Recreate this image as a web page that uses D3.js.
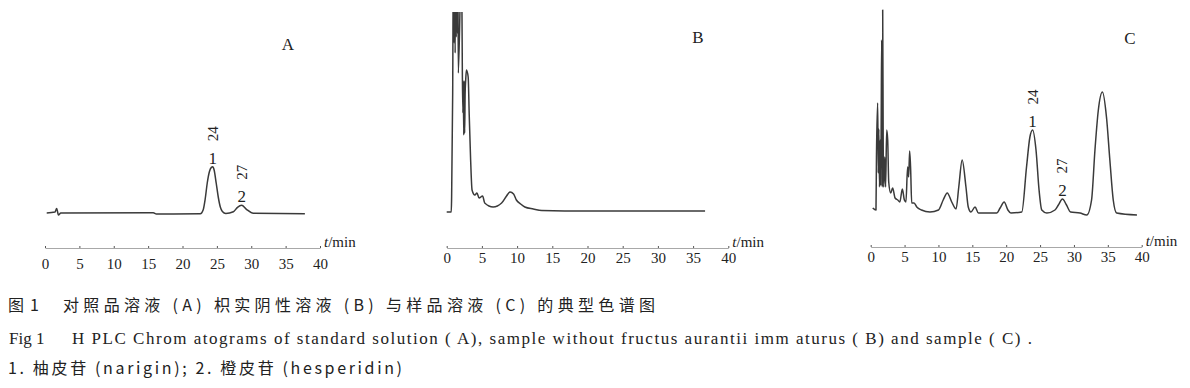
<!DOCTYPE html>
<html>
<head>
<meta charset="utf-8">
<script src="https://cdn.jsdelivr.net/npm/d3@7"></script>
<style>
  body { margin: 0; background: #fff; }
  svg { display: block; }
  .tick text { font-family: "Liberation Serif", serif; font-size: 15px; fill: #222; }
  .serif { font-family: "Liberation Serif", serif; fill: #222; }
  .cjk { font-family: "Noto Sans CJK SC", sans-serif; fill: #222; }
</style>
</head>
<body>
<div id="chart"></div>
<script>
// retention time (min) and detector signal
var timesA = [0.25, 1.45, 1.7, 1.95, 2.3, 15.75, 16.2, 22.6, 23.0, 23.3, 23.6, 23.9, 24.2, 24.4, 24.6, 24.9, 25.2, 25.5, 25.8, 26.3, 27.4, 28.0, 28.6, 29.3, 30.3, 37.8];
var signalA = [0, 0.5, 2.3, -1, 0, 0.15, -0.5, -0.4, 1.5, 7, 15, 20.5, 22.8, 23.1, 21.5, 15, 8, 3, 0.8, -0.2, 0.65, 2.85, 3.85, 1.85, -0.15, -0.35];

var timesB = [0.0, 0.65, 0.7, 0.85, 0.95, 1.05, 1.12, 1.2, 1.28, 1.35, 1.42, 1.5, 1.58, 1.65, 2.1, 2.22, 2.3, 2.36, 2.42, 2.48, 2.55, 2.62, 2.7, 2.8, 3.05, 3.2, 3.4, 3.6, 4.0, 4.3, 4.6, 5.1, 5.4, 6.6, 7.8, 8.5, 9.0, 9.5, 9.9, 10.5, 11.1, 12.3, 13.5, 20, 36.7];
var signalB = [0.5, 0.5, 8, 60, 130, 85, 130, 80, 130, 88, 130, 90, 130, 70, 130, 71.5, 50, 66, 39, 66, 40, 60, 66.5, 71.5, 68, 49, 26.5, 11.5, 9, 10, 7.5, 8.5, 5, 3, 5, 8.5, 10.5, 9.5, 6.5, 4.5, 3, 2, 1.25, 1, 1];

var timesC = [0.3, 0.78, 0.85, 1.03, 1.12, 1.2, 1.3, 1.4, 1.48, 1.55, 1.62, 1.72, 1.77, 1.85, 1.92, 2.07, 2.2, 2.36, 2.51, 2.66, 2.95, 3.24, 3.6, 4.0, 4.3, 4.67, 4.97, 5.2, 5.45, 5.6, 5.75, 5.9, 6.05, 6.4, 6.8, 7.5, 8.75, 10.0, 10.7, 11.3, 11.96, 12.6, 13.0, 13.5, 14.06, 14.4, 14.8, 15.4, 15.9, 18.6, 19.1, 19.7, 20.25, 20.7, 22.3, 23.0, 23.5, 23.9, 24.4, 24.85, 25.25, 26.0, 27.2, 27.7, 28.3, 28.9, 29.5, 30.9, 31.9, 32.6, 33.1, 33.6, 34.2, 34.8, 35.3, 35.8, 36.3, 39.3];
var signalC = [2.5, 1.5, 28, 55, 20, 42, 13, 36.5, 14, 46.5, 86.5, 13, 101.5, 30, 13, 28, 13, 41.5, 36.5, 15.5, 10, 12.5, 7.5, 6.5, 5.5, 12, 6.5, 5.5, 23, 18, 31, 21.5, 5, 5, 3, 1.5, 0.5, 1.5, 6.5, 10, 5.5, 2, 13, 26.5, 13, 3, 0.5, 3, 0, 0, 2.5, 5.5, 1.5, 0, 0.5, 23, 38, 41.5, 31.5, 11.5, 1.5, 0, 1.5, 4, 7, 4, 0.5, 0, -1, 6.5, 31.5, 51.5, 60.5, 48, 26.5, 6.5, 0, -1];

// labelled peaks: 1 = naringin, 2 = hesperidin
var peakNumbers = ["1", "2"];
var peakRtLabels = ["24", "27"];
var peakTimesA = [24.4, 28.6];
var peakTimesC = [23.9, 28.3];

var panelNames = ["A", "B", "C"];
var xTicks = [0, 5, 10, 15, 20, 25, 30, 35, 40];

var svgWidth = 1190;
var svgHeight = 388;

var svg = d3.select("#chart").append("svg")
  .attr("width", svgWidth)
  .attr("height", svgHeight);

// layout of each panel (pixels)
var panels = [
  { name: panelNames[0], t: timesA, s: signalA, x0: 45, x1: 320, axisY: 248, pad: 10, clipTop: 5,
    letter: [288, 44], peaks: peakTimesA },
  { name: panelNames[1], t: timesB, s: signalB, x0: 446.7, x1: 728.3, axisY: 248, pad: 4, clipTop: 12,
    letter: [698, 37], peaks: null },
  { name: panelNames[2], t: timesC, s: signalC, x0: 870.7, x1: 1141.7, axisY: 247, pad: 4, clipTop: 6,
    letter: [1130, 38], peaks: peakTimesC }
];

var yScale = d3.scaleLinear().domain([0, 100]).range([213, 13]);

panels.forEach(function(p, i) {
  var x = d3.scaleLinear().domain([0, 40]).range([p.x0, p.x1]);
  var g = svg.append("g");

  svg.append("clipPath").attr("id", "clip" + i)
    .append("rect")
    .attr("x", p.x0 - 5).attr("y", p.clipTop)
    .attr("width", p.x1 - p.x0 + 10).attr("height", 230 - p.clipTop);

  var pts = p.t.map(function(d, k) { return [d, p.s[k]]; });
  var line = d3.line()
    .x(function(d) { return x(d[0]); })
    .y(function(d) { return yScale(d[1]); })
    .curve(d3.curveMonotoneX);

  g.append("path")
    .datum(pts)
    .attr("clip-path", "url(#clip" + i + ")")
    .attr("fill", "none")
    .attr("stroke", "#3a3a3a")
    .attr("stroke-width", 1.5)
    .attr("stroke-linejoin", "round")
    .attr("d", line);

  // time axis
  var axis = d3.axisBottom(x)
    .tickValues(xTicks)
    .tickSizeInner(-2)
    .tickSizeOuter(0)
    .tickPadding(p.pad);

  var ax = g.append("g")
    .attr("transform", "translate(0," + p.axisY + ")")
    .call(axis);
  ax.select(".domain").attr("stroke", "#a8a8a8").attr("stroke-width", 1.2);
  ax.selectAll(".tick line").attr("stroke", "#555");

  var unit = g.append("text")
    .attr("class", "serif")
    .attr("x", x(40) + 4)
    .attr("y", p.axisY - 1)
    .attr("font-size", 15);
  unit.append("tspan").attr("font-style", "italic").text("t");
  unit.append("tspan").text("/min");

  g.append("text")
    .attr("class", "serif")
    .attr("x", p.letter[0]).attr("y", p.letter[1] + 6)
    .attr("text-anchor", "middle")
    .attr("font-size", 17)
    .text(p.name);

  if (p.peaks) {
    p.peaks.forEach(function(pt, k) {
      // height of the trace at the peak
      var top = d3.max(pts.filter(function(d) { return Math.abs(d[0] - pt) < 0.4; }), function(d) { return d[1]; });
      var px = x(pt);
      var py = yScale(top);
      g.append("text")
        .attr("class", "serif")
        .attr("x", px).attr("y", py - 3)
        .attr("text-anchor", "middle")
        .attr("font-size", 17)
        .text(peakNumbers[k]);
      g.append("text")
        .attr("class", "serif")
        .attr("transform", "translate(" + (px + 5) + "," + (py - 33) + ") rotate(-90)")
        .attr("text-anchor", "middle")
        .attr("font-size", 15)
        .text(peakRtLabels[k]);
    });
  }
});

// figure caption
svg.append("text").attr("class", "cjk").attr("x", 8).attr("y", 311).attr("font-size", 16)
  .attr("textLength", 31).attr("lengthAdjust", "spacing").text("图 1");
svg.append("text").attr("class", "cjk").attr("x", 63).attr("y", 311).attr("font-size", 16)
  .attr("textLength", 592).attr("lengthAdjust", "spacing")
  .text("对照品溶液 (A)  枳实阴性溶液 (B)  与样品溶液 (C)  的典型色谱图");

svg.append("text").attr("class", "serif").attr("x", 9).attr("y", 344).attr("font-size", 17).text("Fig 1");
svg.append("text").attr("class", "serif").attr("x", 72).attr("y", 344).attr("font-size", 17)
  .attr("textLength", 960).attr("lengthAdjust", "spacing")
  .text("H PLC Chrom atograms of standard solution ( A),  sample without fructus aurantii imm aturus ( B)  and sample ( C) .");

svg.append("text").attr("class", "cjk").attr("x", 8).attr("y", 374).attr("font-size", 16)
  .attr("textLength", 394).attr("lengthAdjust", "spacing")
  .text("1.  柚皮苷 (narigin);  2.  橙皮苷 (hesperidin)");
</script>
</body>
</html>
